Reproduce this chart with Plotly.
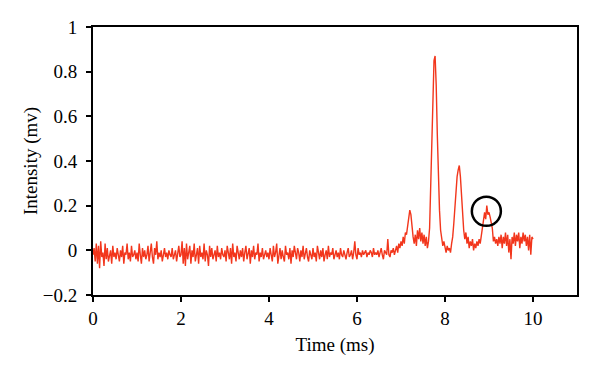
import numpy as np
import plotly.graph_objects as go

# time axis (ms), sampled every 0.025 ms from 0 to 10
time_start = 0.0
time_step = 0.025

intensity_0 = [-0.02, 0.01, -0.05, 0.03, -0.06, 0.02, -0.08, 0.04, -0.03, -0.01, -0.07, 0.03, -0.04, 0.01, -0.05, -0.02, 0.00, -0.06, 0.02, -0.03,
               -0.01, -0.04, 0.01, -0.02, -0.05, 0.00, -0.03, 0.02, -0.06, -0.01, -0.02, 0.03, -0.04, -0.01, -0.05, 0.02, -0.03, -0.02, 0.00, -0.04]
intensity_1 = [-0.01, -0.05, 0.03, -0.02, -0.06, 0.01, -0.03, 0.00, -0.04, -0.02, 0.02, -0.05, -0.01, 0.03, -0.03, -0.06, 0.01, -0.02, 0.04, -0.04,
               -0.01, -0.03, 0.00, -0.05, -0.02, 0.01, -0.03, -0.01, -0.04, 0.00, -0.02, -0.03, 0.01, -0.04, -0.02, 0.00, -0.05, -0.01, 0.02, -0.03]
intensity_2 = [-0.02, 0.04, -0.06, 0.01, -0.07, 0.03, -0.04, -0.01, 0.02, -0.06, 0.00, -0.03, 0.03, -0.05, -0.02, 0.01, -0.06, 0.02, -0.03, -0.01,
               -0.04, 0.03, -0.05, 0.00, -0.02, -0.07, 0.02, -0.03, 0.01, -0.04, -0.02, 0.00, -0.05, 0.02, -0.03, -0.01, -0.04, 0.01, -0.02, -0.03]
intensity_3 = [0.00, -0.05, 0.02, -0.02, -0.04, 0.01, -0.06, 0.03, -0.03, -0.01, -0.05, 0.02, -0.02, -0.04, 0.00, -0.03, 0.01, -0.05, -0.01, 0.02,
               -0.04, -0.02, 0.01, -0.06, 0.00, -0.03, 0.02, -0.04, -0.01, -0.02, 0.03, -0.05, -0.01, -0.03, 0.01, -0.04, -0.02, 0.00, -0.03, -0.01]
intensity_4 = [-0.04, 0.01, -0.02, -0.05, 0.02, -0.03, -0.01, 0.03, -0.06, -0.02, 0.01, -0.04, 0.00, -0.03, -0.05, 0.02, -0.02, -0.01, -0.04, 0.01,
               -0.06, 0.00, -0.03, 0.02, -0.02, -0.04, 0.01, -0.01, -0.05, 0.00, -0.03, 0.02, -0.04, -0.02, 0.01, -0.03, -0.05, 0.00, -0.02, -0.04]
intensity_5 = [0.01, -0.03, -0.01, -0.05, 0.02, -0.02, -0.04, 0.00, -0.03, 0.01, -0.05, -0.02, 0.00, -0.04, 0.02, -0.03, -0.01, -0.02, 0.01, -0.04,
               -0.02, 0.00, -0.03, -0.01, -0.04, 0.01, -0.02, -0.03, 0.00, -0.02, -0.04, -0.01, 0.01, -0.03, -0.02, 0.00, -0.04, -0.01, 0.04, -0.02]
intensity_6 = [-0.04, 0.01, -0.02, -0.01, -0.03, 0.00, -0.02, -0.01, 0.00, -0.03, -0.01, -0.02, 0.00, -0.01, -0.03, 0.01, -0.02, -0.01, -0.02, 0.00,
               -0.03, -0.01, 0.01, -0.02, -0.04, 0.00, -0.01, -0.02, 0.05, -0.02, -0.03, 0.00, -0.01, 0.01, -0.02, 0.00, 0.02, -0.01, 0.03, 0.01]
intensity_7 = [0.04, 0.02, 0.06, 0.03, 0.08, 0.07, 0.11, 0.15, 0.18, 0.16, 0.10, 0.06, 0.03, 0.07, 0.02, 0.09, 0.05, 0.10, 0.04, 0.08,
               0.03, 0.07, 0.02, 0.06, 0.01, 0.04, 0.10, 0.30, 0.52, 0.72, 0.85, 0.87, 0.74, 0.52, 0.32, 0.18, 0.09, 0.05, 0.02, 0.04]
intensity_8 = [0.01, -0.01, 0.02, 0.00, 0.01, -0.01, 0.03, 0.06, 0.12, 0.20, 0.27, 0.33, 0.36, 0.38, 0.33, 0.24, 0.15, 0.09, 0.05, 0.08,
               0.03, 0.06, 0.01, 0.04, 0.02, 0.05, 0.00, 0.03, 0.01, 0.04, 0.02, 0.05, 0.03, 0.06, 0.11, 0.14, 0.17, 0.14, 0.20, 0.16]
intensity_9 = [0.17, 0.15, 0.13, 0.10, 0.04, 0.06, 0.03, 0.05, 0.02, 0.06, 0.03, 0.07, 0.01, 0.06, 0.03, 0.08, 0.02, 0.07, -0.01, 0.05,
               -0.04, 0.06, 0.03, 0.08, 0.02, 0.07, 0.04, 0.08, 0.01, 0.06, 0.03, 0.08, 0.04, 0.07, 0.02, 0.06, 0.00, 0.07, -0.02, 0.06, 0.05]

intensity = (intensity_0 + intensity_1 + intensity_2 + intensity_3 + intensity_4 +
             intensity_5 + intensity_6 + intensity_7 + intensity_8 + intensity_9)
time_ms = [round(time_start + i * time_step, 3) for i in range(len(intensity))]

x_ticks = [0, 2, 4, 6, 8, 10]
y_ticks = [-0.2, 0, 0.2, 0.4, 0.6, 0.8, 1]

# highlighted feature (circle), in data units
circle_center = (8.94, 0.175)
circle_radius = (0.33, 0.065)

fig = go.Figure()
fig.add_trace(go.Scatter(x=time_ms, y=intensity, mode="lines",
                         line=dict(color="#f2361c", width=1.4), showlegend=False))

fig.add_shape(type="circle", xref="x", yref="y",
              x0=circle_center[0] - circle_radius[0], x1=circle_center[0] + circle_radius[0],
              y0=circle_center[1] - circle_radius[1], y1=circle_center[1] + circle_radius[1],
              line=dict(color="black", width=2.5))

font_family = "Liberation Serif, DejaVu Serif, serif"
axis_common = dict(showline=True, linecolor="black", linewidth=2, mirror=True,
                   ticks="outside", ticklen=5, tickwidth=2, tickcolor="black",
                   showgrid=False, zeroline=False, automargin=False,
                   tickfont=dict(family=font_family, size=19, color="black"),
                   title_font=dict(family=font_family, size=19, color="black"))

fig.update_xaxes(range=[0, 11], tickvals=x_ticks, title_text="Time (ms)",
                 title_standoff=10, **axis_common)
fig.update_yaxes(range=[-0.2, 1], tickvals=y_ticks, title_text="Intensity (mv)",
                 title_standoff=0, ticklabelstandoff=5, **axis_common)

fig.update_layout(width=600, height=376,
                  margin=dict(l=85, r=31, t=19, b=89),
                  plot_bgcolor="white", paper_bgcolor="white",
                  font=dict(family=font_family, color="black"))

fig.write_html("out.html")
